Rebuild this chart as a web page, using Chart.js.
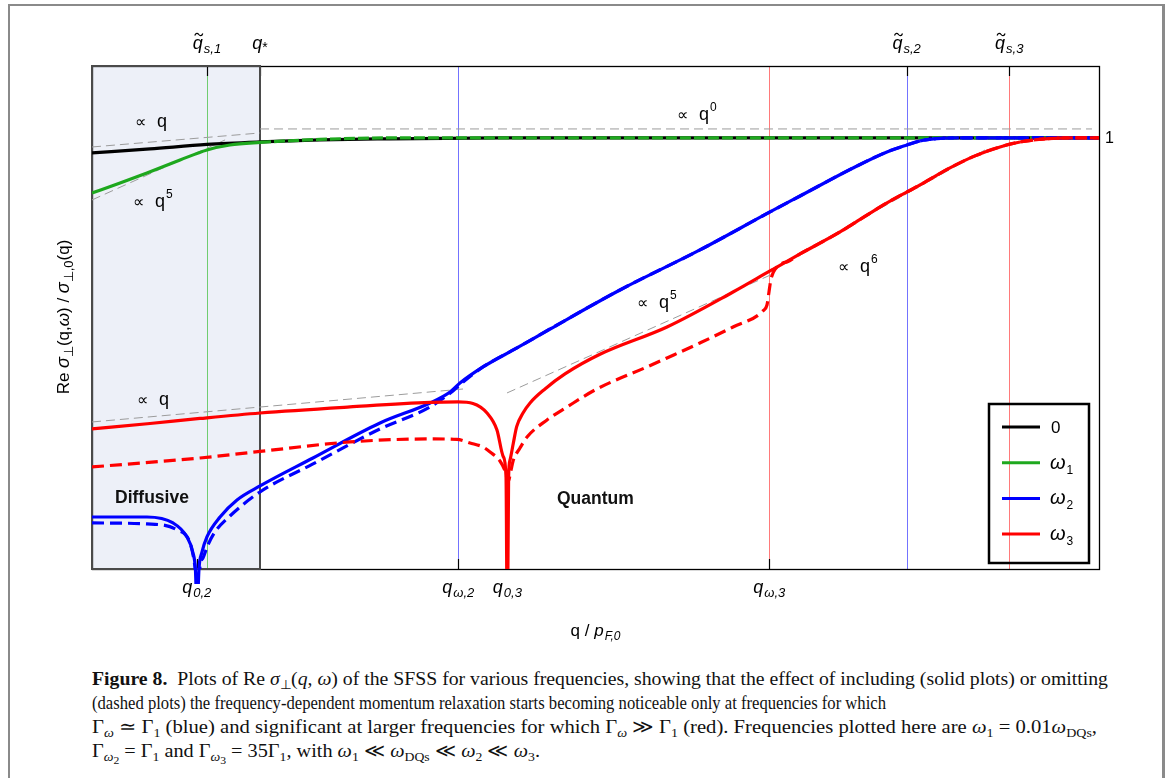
<!DOCTYPE html>
<html>
<head>
<meta charset="utf-8">
<script src="https://cdn.jsdelivr.net/npm/chart.js@4/dist/chart.umd.min.js"></script>
<style>
  body { margin: 0; background: #fff; }
  #frame { position: absolute; left: 8px; top: 4px; width: 1152px; height: 800px;
           border-left: 2px solid #8a8a8a; border-top: 2px solid #8a8a8a; border-right: 3px solid #8a8a8a; }
  #plot { position: absolute; left: 0; top: 0; }
  #caption { position: absolute; left: 92px; top: 667px; font-family: "Liberation Serif", serif;
             font-size: 19px; line-height: 24px; color: #111; }
  #caption div { height: 24px; white-space: nowrap; transform-origin: 0 0; }
  #caption sub { font-size: 68%; vertical-align: -0.28em; line-height: 0; }
  #caption sub sub { font-size: 85%; }
</style>
</head>
<body>
<div id="frame"></div>
<canvas id="plot" width="1176" height="650"></canvas>
<div id="caption">
  <div><span><b>Figure 8.</b>&nbsp; Plots of Re <i>σ</i><sub>⊥</sub>(<i>q</i>, <i>ω</i>) of the SFSS for various frequencies, showing that the effect of including (solid plots) or omitting</span></div>
  <div><span>(dashed plots) the frequency-dependent momentum relaxation starts becoming noticeable only at frequencies for which</span></div>
  <div><span>Γ<sub><i>ω</i></sub> ≃ Γ<sub>1</sub> (blue) and significant at larger frequencies for which Γ<sub><i>ω</i></sub> ≫ Γ<sub>1</sub> (red). Frequencies plotted here are <i>ω</i><sub>1</sub> = 0.01<i>ω</i><sub>DQs</sub>,</span></div>
  <div><span>Γ<sub><i>ω</i><sub>2</sub></sub> = Γ<sub>1</sub> and Γ<sub><i>ω</i><sub>3</sub></sub> = 35Γ<sub>1</sub>, with <i>ω</i><sub>1</sub> ≪ <i>ω</i><sub>DQs</sub> ≪ <i>ω</i><sub>2</sub> ≪ <i>ω</i><sub>3</sub>.</span></div>
</div>
<script>
// log10(q / pF0) on x, log10(Re sigma / sigma0) on y
const xMin = -7, xMax = 0, yMin = -6, yMax = 1;

// omega = 0
const q0 = [-7, -6.597, -6.201, -5.832, -5.415, -4.998, -4.164, 0];
const s0 = [-0.21, -0.154, -0.092, -0.057, -0.029, -0.015, 0, 0];

// omega1
const q1 = [-7, -6.805, -6.618, -6.388, -6.201, -6.041, -5.832, -5.415, -4.859, 0];
const s1 = [-0.767, -0.628, -0.488, -0.308, -0.168, -0.099, -0.064, -0.022, 0, 0];

// omega2, with frequency-dependent relaxation
const q2 = [-7, -6.618, -6.437, -6.340, -6.298, -6.281, -6.270, -6.256, -6.237, -6.201, -6.110, -5.992,
  -5.832, -5.464, -4.998, -4.650, -4.511, -4.442, -4.282, -4.046, -3.816, -3.330, -2.774, -2.287,
  -2.078, -1.710, -1.474, -1.335, -1.244, -1.126, -0.966, 0];
const s2 = [-5.276, -5.276, -5.359, -5.554, -5.777, -6.013, -6.6, -5.985, -5.777, -5.554, -5.276, -5.039,
  -4.844, -4.455, -3.968, -3.689, -3.536, -3.411, -3.188, -2.924, -2.660, -2.117, -1.560, -1.031,
  -0.809, -0.419, -0.196, -0.099, -0.043, -0.010, 0, 0];

// omega2, relaxation omitted
const q2d = [-7, -6.618, -6.409, -6.319, -6.284, -6.263, -6.249, -6.228, -6.194, -6.145, -6.041, -5.832,
  -5.464, -4.998, -4.650, -4.491, -4.428, -4.282, -4.046, -3.816, -3.330, -2.774, -2.287, -2.078,
  -1.710, -1.474, -1.335, -1.244, -1.126, -0.966, 0];
const s2d = [-5.359, -5.373, -5.456, -5.637, -5.971, -6.4, -5.957, -5.846, -5.665, -5.484, -5.262, -4.928,
  -4.538, -4.051, -3.745, -3.522, -3.411, -3.188, -2.924, -2.660, -2.117, -1.560, -1.031, -0.809,
  -0.419, -0.196, -0.099, -0.043, -0.010, 0, 0];

// omega3, with frequency-dependent relaxation
const q3 = [-7, -6.597, -6.249, -5.832, -5.207, -4.650, -4.456, -4.352, -4.254, -4.185, -4.141, -4.122,
  -4.113, -4.104, -4.094, -4.071, -4.048, -4.004, -3.955, -3.851, -3.712, -3.469, -3.003,
  -2.544, -2.287, -2.078, -1.800, -1.710, -1.474, -1.244, -1.036, -0.862, -0.688, -0.549, -0.376,
  -0.202, 0];
const s3 = [-4.051, -3.975, -3.905, -3.829, -3.745, -3.682, -3.675, -3.696, -3.829, -4.065, -4.437, -4.715,
  -7, -4.715, -4.483, -4.246, -4.019, -3.829, -3.689, -3.494, -3.285, -3.012, -2.632,
  -2.145, -1.852, -1.616, -1.310, -1.198, -0.905, -0.655, -0.418, -0.251, -0.126, -0.057, -0.015,
  0, 0];

// omega3, relaxation omitted
const q3d = [-7, -6.249, -5.832, -5.207, -4.650, -4.463, -4.372, -4.282, -4.233, -4.164, -4.126, -4.108,
  -4.087, -4.073, -4.025, -3.976, -3.837, -3.698, -3.490, -3.142, -3.003, -2.774, -2.544, -2.336,
  -2.308, -2.294, -2.280, -2.245, -2.197, -2.169, -2.078, -1.800, -1.710, -1.474, -1.244, -1.036,
  -0.862, -0.688, -0.549, -0.376, -0.202, 0];
const s3d = [-4.580, -4.455, -4.364, -4.232, -4.190, -4.197, -4.246, -4.302, -4.371, -4.497, -4.650, -4.789,
  -4.622, -4.497, -4.316, -4.163, -3.926, -3.745, -3.494, -3.188, -3.063, -2.854, -2.632, -2.409,
  -2.326, -2.145, -1.964, -1.811, -1.741, -1.727, -1.616, -1.310, -1.198, -0.905, -0.655, -0.418,
  -0.251, -0.126, -0.057, -0.015, 0, 0];

// power-law asymptotes (start/end) and their exponents
const asymQ = [[-7, -5.832], [-5.832, -0.049], [-7, -6.075], [-7, -4.421], [-4.115, -2.252], [-2.287, -0.792]];
const asymS = [[-0.127, 0.068], [0.124, 0.124], [-0.864, -0.029], [-3.954, -3.495], [-3.550, -1.880], [-1.838, -0.168]];
const asymPow = ['', '0', '5', '', '5', '6'];
const asymLabelQ = [-6.701, -2.933, -6.715, -6.687, -3.212, -1.814];
const asymLabelS = [0.152, 0.249, -0.969, -3.717, -2.367, -1.866];

// characteristic momenta
const topTicks = [-6.201, -5.832, -1.337, -0.624];
const topTickSubs = ['s,1', '*', 's,2', 's,3'];
const bottomTicks = [-6.272, -4.454, -4.113, -2.292];
const bottomTickSubs = ['0,2', 'ω,2', '0,3', 'ω,3'];
const guideQ = [-6.201, -4.454, -2.292, -1.337, -0.624];
const guideColors = ['#70cc70', '#7373ff', '#ff7a7a', '#7373ff', '#ff7a7a'];
const diffusiveEnd = -5.832;

const seriesNames = ['0', 'ω1', 'ω2', 'ω3'];
const seriesColors = ['#000000', '#1ea81e', '#0000ff', '#ff0000'];

const sans = '"Liberation Sans", Arial, sans-serif';
const pts = (xs, ys) => xs.map((v, i) => ({ x: v, y: ys[i] }));

// where curves sit on the plateau they are drawn dashed so the ones below peek through
const plateau = (dash) => ({
  borderDash: c => (c.p0.parsed.y > -0.075 && c.p1.parsed.y > -0.075 ? dash : undefined)
});

const curve = (label, xs, ys, color, order, extra) => Object.assign({
  label, data: pts(xs, ys), borderColor: color, borderWidth: 3.2, pointRadius: 0,
  cubicInterpolationMode: 'monotone', fill: false, order
}, extra || {});

const datasets = [
  curve('ω3', q3, s3, seriesColors[3], 0, { segment: plateau([11, 3]) }),
  curve('ω3 dashed', q3d, s3d, seriesColors[3], 1, { borderDash: [12, 6] }),
  curve('ω2', q2, s2, seriesColors[2], 2, { segment: plateau([11, 3]), clip: { left: 0, top: 0, right: 0, bottom: 15 } }),
  curve('ω2 dashed', q2d, s2d, seriesColors[2], 3, { borderDash: [12, 6] }),
  curve('ω1', q1, s1, seriesColors[1], 4, { segment: plateau([11, 3]) }),
  curve('0', q0, s0, seriesColors[0], 5)
];
asymQ.forEach((xs, i) => {
  datasets.push({
    label: 'asymptote', data: pts(xs, asymS[i]), borderColor: '#9c9c9c', borderWidth: 1,
    borderDash: [9, 5], pointRadius: 0, order: 10 + i, tension: 0
  });
});

function rich(ctx, parts, x, y, align) {
  let w = 0;
  parts.forEach(p => { ctx.font = p.font; p.w = ctx.measureText(p.t).width; w += p.w + (p.gap || 0); });
  let cx = align === 'center' ? x - w / 2 : x;
  const start = cx;
  parts.forEach(p => {
    ctx.font = p.font;
    cx += p.gap || 0;
    p.x = cx;
    ctx.fillText(p.t, cx, y + (p.dy || 0));
    cx += p.w;
  });
  return start;
}

function qLabel(ctx, sub, tilde, x, y) {
  const parts = [
    { t: 'q', font: `italic 18px ${sans}` },
    sub === '*' ? { t: '*', font: `14px ${sans}`, dy: 3 } : { t: sub, font: `italic 13px ${sans}`, dy: 4, gap: 1 }
  ];
  rich(ctx, parts, x, y, 'center');
  if (tilde) {
    const tx = parts[0].x + parts[0].w / 2 + 1, ty = y - 14.5;
    ctx.beginPath();
    ctx.moveTo(tx - 4, ty + 1);
    ctx.bezierCurveTo(tx - 3, ty - 2, tx - 1, ty - 1.5, tx, ty);
    ctx.bezierCurveTo(tx + 1, ty + 1.5, tx + 3, ty + 2, tx + 4, ty - 1);
    ctx.lineWidth = 1.2;
    ctx.strokeStyle = '#000';
    ctx.stroke();
  }
}

const figurePlugin = {
  id: 'figure',
  beforeDatasetsDraw(chart) {
    const { ctx, chartArea: a, scales: { x, y } } = chart;
    ctx.save();
    const xr = Math.round(x.getPixelForValue(diffusiveEnd));
    ctx.fillStyle = '#edf0f8';
    ctx.fillRect(a.left, a.top, xr - a.left, a.bottom - a.top);

    ctx.lineWidth = 1;
    guideQ.forEach((v, i) => {
      const px = Math.round(x.getPixelForValue(v)) + 0.5;
      ctx.strokeStyle = guideColors[i];
      ctx.beginPath(); ctx.moveTo(px, a.top); ctx.lineTo(px, a.bottom); ctx.stroke();
    });

    // plot frame
    ctx.strokeStyle = '#000';
    ctx.lineWidth = 1.3;
    ctx.strokeRect(a.left + 0.5, a.top + 0.5, a.right - a.left, a.bottom - a.top);

    // ticks
    ctx.lineWidth = 1.2;
    topTicks.forEach(v => {
      const px = Math.round(x.getPixelForValue(v)) + 0.5;
      ctx.beginPath(); ctx.moveTo(px, a.top); ctx.lineTo(px, a.top + 10); ctx.stroke();
    });
    bottomTicks.forEach(v => {
      const px = Math.round(x.getPixelForValue(v)) + 0.5;
      ctx.beginPath(); ctx.moveTo(px, a.bottom); ctx.lineTo(px, a.bottom - 10); ctx.stroke();
    });
    const y1 = Math.round(y.getPixelForValue(0)) + 0.5;
    ctx.beginPath(); ctx.moveTo(a.right - 11, y1); ctx.lineTo(a.right, y1); ctx.stroke();

    // diffusive region outline
    ctx.strokeStyle = '#4a4a4a';
    ctx.lineWidth = 2;
    ctx.strokeRect(a.left, a.top, xr - a.left, a.bottom - a.top);
    ctx.restore();
  },
  afterDatasetsDraw(chart) {
    const { ctx, chartArea: a, scales: { x, y } } = chart;
    ctx.save();
    ctx.fillStyle = '#000';
    ctx.textBaseline = 'alphabetic';

    topTicks.forEach((v, i) => qLabel(ctx, topTickSubs[i], topTickSubs[i] !== '*', x.getPixelForValue(v), a.top - 17));
    bottomTicks.forEach((v, i) => qLabel(ctx, bottomTickSubs[i], false, x.getPixelForValue(v), a.bottom + 24));

    ctx.font = `16px ${sans}`;
    ctx.textBaseline = 'middle';
    ctx.fillText('1', a.right + 6, y.getPixelForValue(0) + 1);
    ctx.textBaseline = 'alphabetic';

    // power-law labels
    asymPow.forEach((p, i) => {
      const px = x.getPixelForValue(asymLabelQ[i]);
      const py = y.getPixelForValue(asymLabelS[i]);
      const parts = [
        { t: '∝', font: `16px ${sans}` },
        { t: 'q', font: `18px ${sans}`, gap: 11 }
      ];
      if (p) parts.push({ t: p, font: `12px ${sans}`, dy: -9, gap: 1 });
      rich(ctx, parts, px, py, 'left');
    });

    ctx.font = `bold 17.5px ${sans}`;
    ctx.fillStyle = '#111';
    ctx.fillText('Diffusive', x.getPixelForValue(-6.84), y.getPixelForValue(-5.081));
    ctx.fillText('Quantum', x.getPixelForValue(-3.768), y.getPixelForValue(-5.095));
    ctx.fillStyle = '#000';

    // legend
    const lx = 989, ly = 404, lw = 100, lh = 159;
    ctx.strokeStyle = '#000';
    ctx.lineWidth = 2.5;
    ctx.strokeRect(lx, ly, lw, lh);
    seriesNames.forEach((name, i) => {
      const yy = 427 + i * 35.7;
      ctx.strokeStyle = seriesColors[i];
      ctx.lineWidth = 3;
      ctx.beginPath(); ctx.moveTo(lx + 13, yy); ctx.lineTo(lx + 51, yy); ctx.stroke();
      if (i === 0) {
        ctx.font = `17px ${sans}`;
        ctx.fillText('0', lx + 62, yy + 6);
      } else {
        rich(ctx, [
          { t: 'ω', font: `italic 20px ${sans}` },
          { t: name.slice(1), font: `12px ${sans}`, dy: 5, gap: 1 }
        ], lx + 61, yy + 6, 'left');
      }
    });

    // axis titles
    rich(ctx, [
      { t: 'q / ', font: `17px ${sans}` },
      { t: 'p', font: `italic 17px ${sans}` },
      { t: 'F,0', font: `italic 12px ${sans}`, dy: 4, gap: 1 }
    ], (a.left + a.right) / 2, a.bottom + 67, 'center');

    ctx.translate(69, 317);
    ctx.rotate(-Math.PI / 2);
    rich(ctx, [
      { t: 'Re ', font: `17px ${sans}` },
      { t: 'σ', font: `italic 18px ${sans}` },
      { t: '⊥', font: `13px ${sans}`, dy: 4 },
      { t: '(q,', font: `17px ${sans}` },
      { t: 'ω', font: `italic 17px ${sans}` },
      { t: ') / ', font: `17px ${sans}` },
      { t: 'σ', font: `italic 18px ${sans}` },
      { t: '⊥,0', font: `13px ${sans}`, dy: 4 },
      { t: '(q)', font: `17px ${sans}` }
    ], 0, 0, 'center');
    ctx.restore();
  }
};

new Chart(document.getElementById('plot').getContext('2d'), {
  type: 'line',
  data: { datasets },
  options: {
    responsive: false,
    animation: false,
    devicePixelRatio: 1,
    layout: { padding: { left: 92, right: 77, top: 66, bottom: 81 } },
    plugins: { legend: { display: false }, tooltip: { enabled: false } },
    scales: {
      x: { type: 'linear', min: xMin, max: xMax, display: false },
      y: { type: 'linear', min: yMin, max: yMax, display: false }
    }
  },
  plugins: [figurePlugin]
});

// fit each caption line to its printed width
const lineWidths = [1016, 794, 1005, 448];
document.querySelectorAll('#caption div').forEach((d, i) => {
  const w = d.querySelector('span').getBoundingClientRect().width;
  d.style.transform = `scaleX(${lineWidths[i] / w})`;
});
</script>
</body>
</html>
